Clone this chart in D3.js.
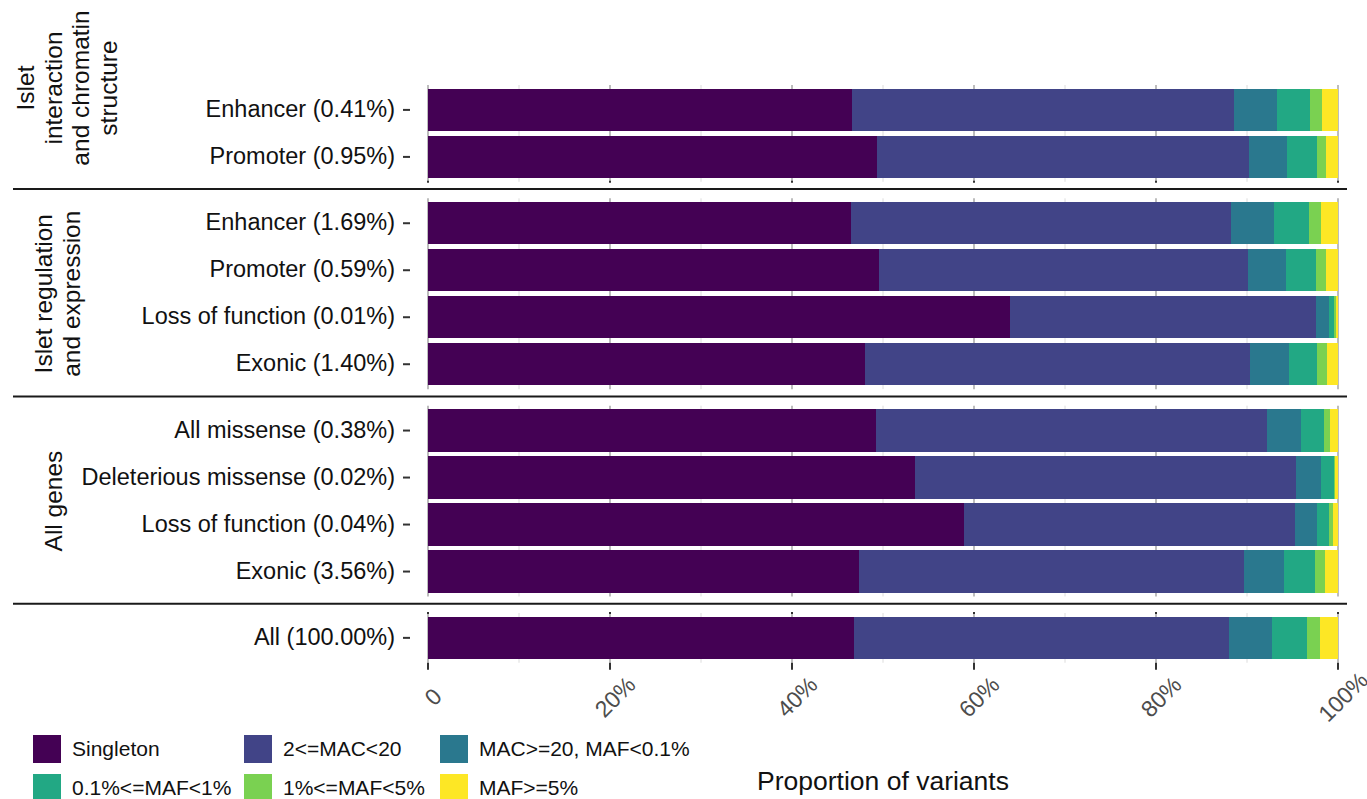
<!DOCTYPE html>
<html>
<head>
<meta charset="utf-8">
<script src="https://cdn.jsdelivr.net/npm/d3@7"></script>
<style>
  body { margin: 0; background: #fff; }
  text { font-family: "Liberation Sans", Arial, Helvetica, sans-serif; }
</style>
</head>
<body>
<svg id="chart" width="1367" height="799"></svg>
<script>
// ---- data (proportion of variants, in %) ----
var classes = ["Singleton", "2<=MAC<20", "MAC>=20, MAF<0.1%", "0.1%<=MAF<1%", "1%<=MAF<5%", "MAF>=5%"];
var colors = ["#440154", "#414487", "#2a788e", "#22a884", "#7ad151", "#fde725"];

var groups = [
  ["Islet", "interaction", "and chromatin", "structure"],
  ["Islet regulation", "and expression"],
  ["All genes"],
  []
];

var rowLabels = [
  "Enhancer (0.41%)", "Promoter (0.95%)",
  "Enhancer (1.69%)", "Promoter (0.59%)", "Loss of function (0.01%)", "Exonic (1.40%)",
  "All missense (0.38%)", "Deleterious missense (0.02%)", "Loss of function (0.04%)", "Exonic (3.56%)",
  "All (100.00%)"
];
var rowGroup = [0, 0, 1, 1, 1, 1, 2, 2, 2, 2, 3];

var singleton = [46.6, 49.3, 46.5, 49.6, 64.0, 48.0, 49.2, 53.5, 58.9, 47.4, 46.8];
var mac2to20  = [42.0, 40.9, 41.7, 40.5, 33.6, 42.3, 43.0, 41.9, 36.4, 42.3, 41.2];
var mac20     = [ 4.7,  4.2,  4.8,  4.2,  1.4,  4.3,  3.7,  2.7,  2.4,  4.4,  4.7];
var maf01to1  = [ 3.6,  3.3,  3.8,  3.3,  0.6,  3.1,  2.6,  1.5,  1.3,  3.4,  3.9];
var maf1to5   = [ 1.3,  1.0,  1.3,  1.1,  0.2,  1.1,  0.6,  0.1,  0.5,  1.1,  1.4];
var maf5      = [ 1.8,  1.3,  1.9,  1.3,  0.2,  1.2,  0.9,  0.3,  0.5,  1.4,  2.0];
var series = [singleton, mac2to20, mac20, maf01to1, maf1to5, maf5];

var xTicks = [0, 20, 40, 60, 80, 100];
var xMinor = [10, 30, 50, 70, 90];

// ---- layout ----
var svg = d3.select("#chart");
var x = d3.scaleLinear().domain([0, 100]).range([428, 1338]);
var step = 47, padIn = 0.1, padOut = 0.08, panelGap = 16.5, panelTop = 85;
var stripX = [67, 57.5, 53, 0];
var stripY = [88, null, null, null];

var panels = [];
var yPos = panelTop;
groups.forEach(function(g, gi) {
  var rows = d3.range(rowLabels.length).filter(function(i) { return rowGroup[i] === gi; });
  var h = step * (rows.length - padIn + 2 * padOut);
  var y = d3.scaleBand().domain(rows).range([yPos, yPos + h]).paddingInner(padIn).paddingOuter(padOut);
  panels.push({ rows: rows, y: y, top: yPos, bottom: yPos + h, lines: g });
  yPos += h + panelGap;
});

// stacked series
var stackData = rowLabels.map(function(l, i) {
  var o = { i: i };
  classes.forEach(function(c, k) { o[c] = series[k][i]; });
  return o;
});
var stacked = d3.stack().keys(classes)(stackData);

panels.forEach(function(p, pi) {
  var g = svg.append("g").attr("class", "panel");

  // grid
  g.selectAll(".minor").data(xMinor).enter().append("line")
    .attr("x1", function(d) { return x(d); }).attr("x2", function(d) { return x(d); })
    .attr("y1", p.top).attr("y2", p.bottom)
    .attr("stroke", "#dcdcdc").attr("stroke-width", 1);
  g.selectAll(".major").data(xTicks).enter().append("line")
    .attr("x1", function(d) { return x(d); }).attr("x2", function(d) { return x(d); })
    .attr("y1", p.top).attr("y2", p.bottom)
    .attr("stroke", "#bdbdbd").attr("stroke-width", 2);

  // tiny clipped tick stubs seen at panel 1 bottom and panel 4 top
  if (pi === 0 || pi === 3) {
    var ty = pi === 0 ? p.bottom - 1 : p.top - 1;
    g.selectAll(".stub").data(xTicks).enter().append("line")
      .attr("x1", function(d) { return x(d); }).attr("x2", function(d) { return x(d); })
      .attr("y1", ty).attr("y2", ty + 2)
      .attr("stroke", "#333").attr("stroke-width", 2);
  }

  // bars
  stacked.forEach(function(s, k) {
    g.selectAll(".bar" + k).data(s.filter(function(d) { return rowGroup[d.data.i] === pi; }))
      .enter().append("rect")
      .attr("x", function(d) { return x(d[0]); })
      .attr("width", function(d) { return x(d[1]) - x(d[0]); })
      .attr("y", function(d) { return p.y(d.data.i); })
      .attr("height", p.y.bandwidth())
      .attr("fill", colors[k])
      .attr("shape-rendering", "crispEdges");
  });

  // y labels + ticks
  p.rows.forEach(function(i) {
    var cy = p.y(i) + p.y.bandwidth() / 2;
    g.append("text").attr("x", 395).attr("y", cy - 1)
      .attr("dy", "0.35em").attr("text-anchor", "end")
      .attr("font-size", 23.5).attr("fill", "#111")
      .text(rowLabels[i]);
    g.append("line").attr("x1", 403).attr("x2", 410).attr("y1", cy).attr("y2", cy)
      .attr("stroke", "#333").attr("stroke-width", 2);
  });

  // strip text (rotated)
  if (p.lines.length) {
    var sy = stripY[pi] != null ? stripY[pi] : (p.top + p.bottom) / 2;
    var st = g.append("g").attr("transform", "translate(" + stripX[pi] + "," + sy + ") rotate(-90)");
    p.lines.forEach(function(line, li) {
      st.append("text").attr("x", 0)
        .attr("y", (li - (p.lines.length - 1) / 2) * 27.5)
        .attr("dy", "0.35em").attr("text-anchor", "middle")
        .attr("font-size", 24.5).attr("fill", "#111")
        .text(line);
    });
  }

  // separator below panel
  if (pi < panels.length - 1) {
    var sep = p.bottom + panelGap / 2 - 1;
    svg.append("line").attr("x1", 13).attr("x2", 1347).attr("y1", sep).attr("y2", sep)
      .attr("stroke", "#1a1a1a").attr("stroke-width", 2);
  }
});

// x axis under last panel
var last = panels[panels.length - 1];
var axis = svg.append("g").attr("transform", "translate(0," + last.bottom + ")");
axis.selectAll("line").data(xTicks).enter().append("line")
  .attr("x1", function(d) { return x(d); }).attr("x2", function(d) { return x(d); })
  .attr("y1", 0).attr("y2", 7)
  .attr("stroke", "#333").attr("stroke-width", 2);
axis.selectAll("text").data(xTicks).enter().append("text")
  .attr("transform", function(d) { return "translate(" + (x(d) + 5) + ",34) rotate(-45)"; })
  .attr("text-anchor", "middle").attr("dy", "0.35em")
  .attr("font-size", 23).attr("fill", "#4d4d4d")
  .text(function(d) { return d === 0 ? "0" : d + "%"; });

svg.append("text").attr("x", (x(0) + x(100)) / 2).attr("y", 790)
  .attr("text-anchor", "middle").attr("font-size", 26.5).attr("fill", "#111")
  .text("Proportion of variants");

// legend
var legX = [33, 244, 440];
var legend = svg.append("g");
classes.forEach(function(c, k) {
  var lx = legX[k % 3], ly = 735 + Math.floor(k / 3) * 39;
  legend.append("rect").attr("x", lx).attr("y", ly).attr("width", 28).attr("height", 28)
    .attr("fill", colors[k]);
  legend.append("text").attr("x", lx + 39).attr("y", ly + 14).attr("dy", "0.35em")
    .attr("font-size", 21).attr("fill", "#111").text(c);
});
</script>
</body>
</html>
